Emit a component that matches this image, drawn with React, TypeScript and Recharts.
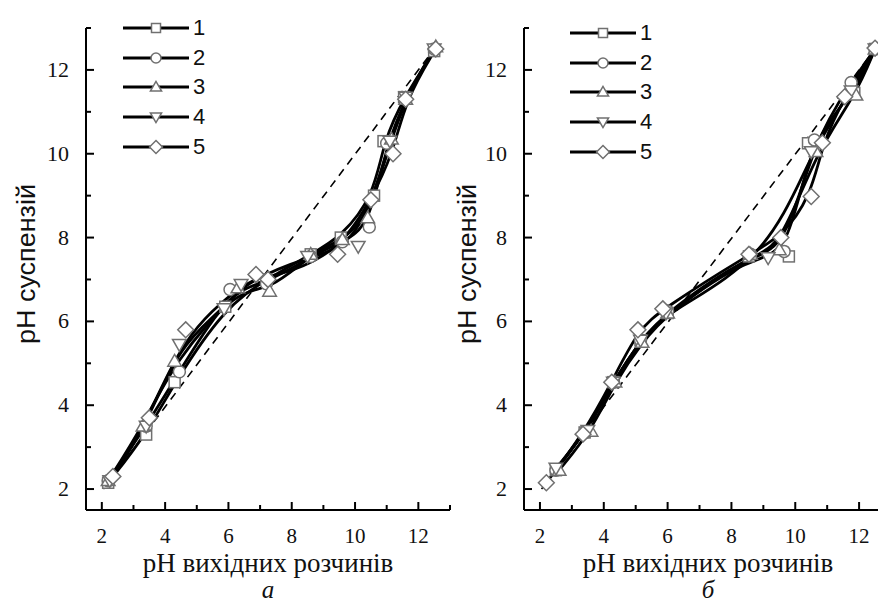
import React from 'react';
import { LineChart, Line, XAxis, YAxis, Legend, Label } from 'recharts';

// ---------- data ----------
type P = { x: number; y: number };

const seriesNames = ['1', '2', '3', '4', '5'];
const seriesShapes = ['square', 'circle', 'triangle', 'invtri', 'diamond'];

// panel "а"
const a1: P[] = [{ x: 2.2, y: 2.15 }, { x: 3.4, y: 3.3 }, { x: 4.3, y: 4.55 }, { x: 5.9, y: 6.35 }, { x: 7.2, y: 7.0 }, { x: 8.6, y: 7.6 }, { x: 9.55, y: 8.0 }, { x: 10.6, y: 9.0 }, { x: 10.9, y: 10.3 }, { x: 11.55, y: 11.35 }, { x: 12.5, y: 12.45 }];
const a2: P[] = [{ x: 2.2, y: 2.2 }, { x: 3.4, y: 3.5 }, { x: 4.45, y: 4.8 }, { x: 6.05, y: 6.76 }, { x: 7.2, y: 6.9 }, { x: 8.6, y: 7.55 }, { x: 9.6, y: 7.9 }, { x: 10.45, y: 8.25 }, { x: 11.0, y: 10.25 }, { x: 11.6, y: 11.3 }, { x: 12.5, y: 12.5 }];
const a3: P[] = [{ x: 2.2, y: 2.2 }, { x: 3.3, y: 3.5 }, { x: 4.3, y: 5.05 }, { x: 6.3, y: 6.8 }, { x: 7.3, y: 6.72 }, { x: 8.6, y: 7.6 }, { x: 9.6, y: 7.95 }, { x: 10.4, y: 8.47 }, { x: 11.15, y: 10.35 }, { x: 11.6, y: 11.3 }, { x: 12.55, y: 12.55 }];
const a4: P[] = [{ x: 2.25, y: 2.2 }, { x: 3.4, y: 3.5 }, { x: 4.45, y: 5.45 }, { x: 5.86, y: 6.3 }, { x: 6.4, y: 6.88 }, { x: 8.5, y: 7.55 }, { x: 10.1, y: 7.79 }, { x: 11.1, y: 10.3 }, { x: 11.6, y: 11.35 }, { x: 12.5, y: 12.5 }];
const a5: P[] = [{ x: 2.35, y: 2.3 }, { x: 3.5, y: 3.7 }, { x: 4.65, y: 5.8 }, { x: 6.87, y: 7.12 }, { x: 7.25, y: 7.0 }, { x: 9.45, y: 7.6 }, { x: 10.5, y: 8.9 }, { x: 11.2, y: 10.0 }, { x: 11.6, y: 11.3 }, { x: 12.55, y: 12.5 }];
const aDiag: P[] = [{ x: 2.05, y: 2.0 }, { x: 12.4, y: 12.4 }];

// panel "б"
const b1: P[] = [{ x: 2.5, y: 2.45 }, { x: 3.4, y: 3.35 }, { x: 4.3, y: 4.55 }, { x: 5.15, y: 5.55 }, { x: 6.0, y: 6.2 }, { x: 8.55, y: 7.55 }, { x: 9.8, y: 7.55 }, { x: 10.4, y: 10.25 }, { x: 11.85, y: 11.45 }, { x: 12.5, y: 12.5 }];
const b2: P[] = [{ x: 2.5, y: 2.45 }, { x: 3.4, y: 3.35 }, { x: 4.3, y: 4.55 }, { x: 5.15, y: 5.55 }, { x: 6.0, y: 6.25 }, { x: 8.6, y: 7.6 }, { x: 9.65, y: 7.67 }, { x: 10.6, y: 10.33 }, { x: 11.75, y: 11.7 }, { x: 12.5, y: 12.5 }];
const b3: P[] = [{ x: 2.6, y: 2.45 }, { x: 3.6, y: 3.38 }, { x: 4.35, y: 4.55 }, { x: 5.2, y: 5.5 }, { x: 6.0, y: 6.2 }, { x: 8.6, y: 7.6 }, { x: 9.5, y: 7.71 }, { x: 10.65, y: 10.05 }, { x: 11.9, y: 11.4 }, { x: 12.5, y: 12.5 }];
const b4: P[] = [{ x: 2.5, y: 2.5 }, { x: 3.5, y: 3.4 }, { x: 4.3, y: 4.55 }, { x: 5.15, y: 5.55 }, { x: 5.95, y: 6.2 }, { x: 9.15, y: 7.52 }, { x: 10.5, y: 10.05 }, { x: 11.75, y: 11.5 }, { x: 12.5, y: 12.5 }];
const b5: P[] = [{ x: 2.2, y: 2.15 }, { x: 3.35, y: 3.31 }, { x: 4.25, y: 4.55 }, { x: 5.07, y: 5.8 }, { x: 5.85, y: 6.3 }, { x: 8.55, y: 7.6 }, { x: 9.55, y: 8.0 }, { x: 10.5, y: 8.98 }, { x: 10.85, y: 10.26 }, { x: 11.55, y: 11.36 }, { x: 12.5, y: 12.52 }];
const bDiag: P[] = [{ x: 2.05, y: 2.0 }, { x: 12.3, y: 12.3 }];

const panelA = [a1, a2, a3, a4, a5];
const panelB = [b1, b2, b3, b4, b5];

const xTicks = [2, 3, 4, 5, 6, 7, 8, 9, 10, 11, 12, 13];
const yTicks = [2, 3, 4, 5, 6, 7, 8, 9, 10, 11, 12, 13];
const labeledTicks = [2, 4, 6, 8, 10, 12];

const xTitle = 'pH вихідних розчинів';
const yTitle = 'pH суспензій';
const panelLetters = ['а', 'б'];

// ---------- drawing helpers ----------
const MARK = '#707070';
const SERIF = 'Liberation Serif';
const SANS = 'Liberation Sans';

function Marker({ shape, cx, cy, s }: { shape: string; cx: number; cy: number; s: number }) {
  const st = { fill: '#fff', stroke: MARK, strokeWidth: 1.5 };
  if (shape === 'square') return <rect x={cx - s / 2} y={cy - s / 2} width={s} height={s} {...st} />;
  if (shape === 'circle') return <circle cx={cx} cy={cy} r={s / 2 + 0.5} {...st} />;
  if (shape === 'triangle')
    return <polygon points={`${cx},${cy - s * 0.62} ${cx - s * 0.62},${cy + s * 0.45} ${cx + s * 0.62},${cy + s * 0.45}`} {...st} />;
  if (shape === 'invtri')
    return <polygon points={`${cx},${cy + s * 0.62} ${cx - s * 0.62},${cy - s * 0.45} ${cx + s * 0.62},${cy - s * 0.45}`} {...st} />;
  return <polygon points={`${cx},${cy - s * 0.72} ${cx + s * 0.72},${cy} ${cx},${cy + s * 0.72} ${cx - s * 0.72},${cy}`} {...st} />;
}

const YTick = (props: any) => {
  const { x, y, payload } = props;
  const v = payload.value;
  const major = v % 2 === 0;
  return (
    <g>
      <line x1={x} x2={x + (major ? 8 : 5)} y1={y} y2={y} stroke="#000" strokeWidth={2} />
      {labeledTicks.includes(v) && (
        <text x={x - 17} y={y + 7} textAnchor="end" style={{ fontFamily: SERIF, fontSize: 22 }} fill="#111">
          {v}
        </text>
      )}
    </g>
  );
};

const XTick = (props: any) => {
  const { x, y, payload } = props;
  const v = payload.value;
  const major = v % 2 === 0;
  return (
    <g>
      <line x1={x} x2={x} y1={y} y2={y - (major ? 8 : 5)} stroke="#000" strokeWidth={2} />
      {labeledTicks.includes(v) && (
        <text x={x} y={y + 33} textAnchor="middle" style={{ fontFamily: SERIF, fontSize: 21 }} fill="#111">
          {v}
        </text>
      )}
    </g>
  );
};

const LegendBox = () => (
  <div style={{ fontFamily: SANS }}>
    {seriesNames.map((n, i) => (
      <div key={n} style={{ display: 'flex', alignItems: 'center', height: 29.75 }}>
        <svg width={66} height={20} style={{ display: 'block' }}>
          <line x1={0} x2={66} y1={10} y2={10} stroke="#000" strokeWidth={3} />
          <Marker shape={seriesShapes[i]} cx={33} cy={10} s={9} />
        </svg>
        <span style={{ fontSize: 22, marginLeft: 4, color: '#111', lineHeight: '22px' }}>{n}</span>
      </div>
    ))}
  </div>
);

type PanelProps = {
  data: P[][];
  diag: P[];
  left: number;
  width: number;
  marginLeft: number;
  marginRight: number;
  legendLeft: number;
  legendTop: number;
  yTitleX: number;
};

function Panel(p: PanelProps) {
  return (
    <div style={{ position: 'absolute', left: p.left, top: 0 }}>
      <LineChart
        width={p.width}
        height={603}
        margin={{ top: 28, right: p.marginRight, bottom: 53, left: p.marginLeft }}
      >
        <XAxis
          type="number"
          dataKey="x"
          domain={[1.5, 13]}
          ticks={xTicks}
          interval={0}
          allowDataOverflow
          height={40}
          axisLine={{ stroke: '#000', strokeWidth: 2 }}
          tickLine={false}
          tickSize={0}
          tickMargin={0}
          tick={<XTick />}
        />
        <YAxis
          type="number"
          dataKey="y"
          domain={[1.5, 13]}
          ticks={yTicks}
          interval={0}
          allowDataOverflow
          width={40}
          axisLine={{ stroke: '#000', strokeWidth: 2 }}
          tickLine={false}
          tickSize={0}
          tickMargin={0}
          tick={<YTick />}
        >
          <Label
            content={() => (
              <text
                x={p.yTitleX}
                y={264}
                transform={`rotate(-90 ${p.yTitleX} 264)`}
                textAnchor="middle"
                style={{ fontFamily: SANS, fontSize: 26 }}
                fill="#111"
                textLength={160}
                lengthAdjust="spacingAndGlyphs"
              >
                {yTitle}
              </text>
            )}
          />
        </YAxis>
        <Legend
          layout="vertical"
          align="center"
          verticalAlign="middle"
          content={() => <LegendBox />}
          wrapperStyle={{ left: p.legendLeft, top: p.legendTop, width: 120 }}
        />
        <Line
          data={p.diag}
          dataKey="y"
          type="linear"
          stroke="#000"
          strokeWidth={1.6}
          strokeDasharray="8 6"
          dot={false}
          isAnimationActive={false}
          legendType="none"
        />
        {p.data.map((d, i) => (
          <Line
            key={i}
            data={d}
            dataKey="y"
            name={seriesNames[i]}
            type="basis"
            stroke="#000"
            strokeWidth={2.8}
            isAnimationActive={false}
            dot={(dp: any) => (
              <Marker key={`m${i}-${dp.index}`} shape={seriesShapes[i]} cx={dp.cx} cy={dp.cy} s={11} />
            )}
            activeDot={false}
          />
        ))}
      </LineChart>
    </div>
  );
}

function Caption({ cx, letter }: { cx: number; letter: string }) {
  return (
    <>
      <div
        style={{
          position: 'absolute',
          left: cx - 170,
          top: 548,
          width: 340,
          height: 30,
          lineHeight: '30px',
          textAlign: 'center',
          fontFamily: SERIF,
          fontSize: 27,
          color: '#111',
          whiteSpace: 'nowrap',
        }}
      >
        {xTitle}
      </div>
      <div
        style={{
          position: 'absolute',
          left: cx - 30,
          top: 576,
          width: 60,
          height: 27,
          lineHeight: '27px',
          textAlign: 'center',
          fontFamily: SERIF,
          fontStyle: 'italic',
          fontSize: 25,
          color: '#111',
        }}
      >
        {letter}
      </div>
    </>
  );
}

export default function App() {
  return (
    <div
      style={{
        position: 'absolute',
        left: 0,
        top: 0,
        width: 878,
        height: 603,
        overflow: 'hidden',
        background: '#fff',
      }}
    >
      <Panel
        data={panelA}
        diag={aDiag}
        left={0}
        width={460}
        marginLeft={46}
        marginRight={10}
        legendLeft={123}
        legendTop={13}
        yTitleX={35}
      />
      <Panel
        data={panelB}
        diag={bDiag}
        left={440}
        width={460}
        marginLeft={44}
        marginRight={9}
        legendLeft={130}
        legendTop={18}
        yTitleX={36}
      />
      <Caption cx={268} letter={panelLetters[0]} />
      <Caption cx={708} letter={panelLetters[1]} />
    </div>
  );
}
